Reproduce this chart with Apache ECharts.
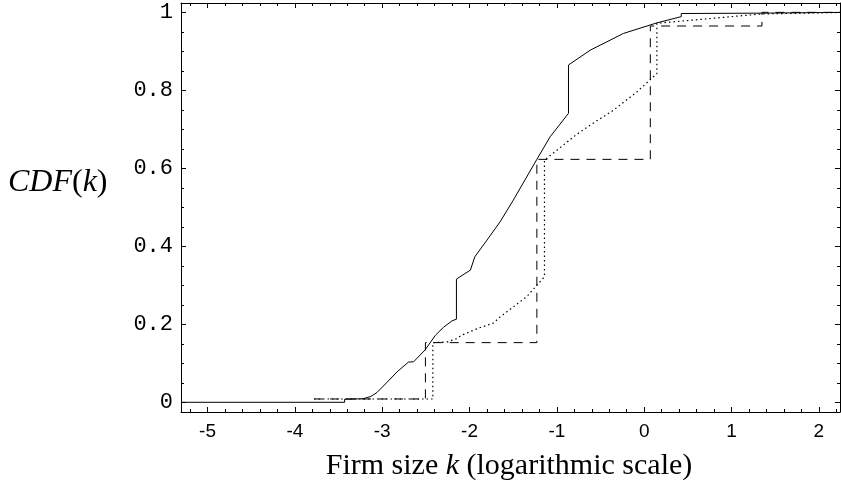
<!DOCTYPE html>
<html>
<head>
<meta charset="utf-8">
<script src="https://cdn.jsdelivr.net/npm/echarts@6/dist/echarts.min.js"></script>
<style>
  html, body { margin: 0; padding: 0; background: #fff; }
  #chart { width: 841px; height: 492px; }
</style>
</head>
<body>
<div id="chart"></div>
<script>
// empirical CDF (solid)
const empiricalCdf = [
  [-5.3, 0], [-3.43, 0], [-3.43, 0.008], [-3.22, 0.009], [-3.13, 0.015],
  [-3.06, 0.025], [-2.95, 0.05], [-2.83, 0.078], [-2.70, 0.103], [-2.64, 0.104],
  [-2.51, 0.134], [-2.39, 0.172], [-2.30, 0.192], [-2.20, 0.209], [-2.15, 0.213],
  [-2.15, 0.316], [-1.99, 0.339], [-1.94, 0.373], [-1.80, 0.416], [-1.65, 0.463],
  [-1.50, 0.518], [-1.229, 0.623], [-1.077, 0.681], [-0.867, 0.741], [-0.867, 0.865],
  [-0.618, 0.903], [-0.237, 0.946], [0.145, 0.973], [0.424, 0.989], [0.424, 0.997],
  [1.37, 0.998], [2.3, 1.0]
];
// step CDF (dashed)
const stepCdf = [
  [-3.78, 0.0085], [-2.505, 0.0085], [-2.505, 0.153], [-1.229, 0.153], [-1.229, 0.623],
  [0.07, 0.623], [0.07, 0.965], [1.348, 0.965], [1.348, 1.0], [2.3, 1.0]
];
// interpolated CDF (dotted)
const interpCdf = [
  [-3.78, 0.0085], [-2.42, 0.0085], [-2.42, 0.153], [-2.25, 0.155], [-2.15, 0.163],
  [-2.09, 0.172], [-1.9, 0.19], [-1.726, 0.203], [-1.649, 0.219], [-1.344, 0.271],
  [-1.142, 0.322], [-1.142, 0.621], [-0.785, 0.685], [-0.618, 0.711], [-0.352, 0.749],
  [-0.084, 0.796], [0.145, 0.843], [0.145, 0.972], [1.35, 0.996], [2.3, 1.0]
];

const xMajor = [-5, -4, -3, -2, -1, 0, 1, 2];
const xMinor = [-5.2, -4.8, -4.6, -4.4, -4.2, -3.8, -3.6, -3.4, -3.2, -2.8, -2.6, -2.4, -2.2,
  -1.8, -1.6, -1.4, -1.2, -0.8, -0.6, -0.4, -0.2, 0.2, 0.4, 0.6, 0.8, 1.2, 1.4, 1.6, 1.8, 2.2];
const yMajor = [0, 0.2, 0.4, 0.6, 0.8, 1];
const yMinor = [0.05, 0.1, 0.15, 0.25, 0.3, 0.35, 0.45, 0.5, 0.55, 0.65, 0.7, 0.75, 0.85, 0.9, 0.95];

const xMin = -5.3035, xMax = 2.2417;
const yMin = -0.0249, yMax = 1.024;

const chart = echarts.init(document.getElementById('chart'), null, { renderer: 'canvas' });

function xAx(pos, ticks, len, line, labels) {
  return {
    type: 'value', position: pos, min: xMin, max: xMax,
    axisLine: { show: line, onZero: false, lineStyle: { color: '#000', width: 1 } },
    axisTick: { show: true, inside: true, length: len, customValues: ticks, lineStyle: { color: '#000', width: 1 } },
    axisLabel: labels ? {
      show: true, customValues: ticks, color: '#000', margin: 10,
      fontFamily: 'Liberation Sans Narrow, Liberation Sans', fontSize: 19
    } : { show: false },
    splitLine: { show: false }
  };
}
function yAx(pos, ticks, len, line, labels) {
  return {
    type: 'value', position: pos, min: yMin, max: yMax,
    axisLine: { show: line, onZero: false, lineStyle: { color: '#000', width: 1 } },
    axisTick: { show: true, inside: true, length: len, customValues: ticks, lineStyle: { color: '#000', width: 1 } },
    axisLabel: labels ? {
      show: true, customValues: ticks, color: '#000', margin: 8,
      fontFamily: 'Liberation Mono', fontSize: 22,
      formatter: (v) => (Math.abs(v) < 1e-9 ? '0' : (v === 1 ? '1' : String(v)))
    } : { show: false },
    splitLine: { show: false }
  };
}

const serif = '"Liberation Serif"';

const option = {
  backgroundColor: '#fff',
  animation: false,
  grid: { left: 181, right: 1, top: 3, bottom: 80, containLabel: false },
  xAxis: [
    xAx('bottom', xMajor, 5, true, true),
    xAx('bottom', xMinor, 3, false, false),
    xAx('top', xMajor, 5, true, false),
    xAx('top', xMinor, 3, false, false)
  ],
  yAxis: [
    yAx('left', yMajor, 5, true, true),
    yAx('left', yMinor, 3, false, false),
    yAx('right', yMajor, 5, true, false),
    yAx('right', yMinor, 3, false, false)
  ],
  graphic: {
    elements: [
      {
        type: 'text', left: 8, top: 167,
        style: {
          text: '{i|CDF}{n|(}{i|k}{n|)}', fill: '#000',
          rich: {
            i: { fontFamily: serif, fontStyle: 'italic', fontSize: 32, fill: '#000' },
            n: { fontFamily: serif, fontSize: 32, fill: '#000' }
          }
        }
      },
      {
        type: 'text', x: 509, y: 466,
        style: {
          text: '{n|Firm size }{i|k}{n| (logarithmic scale)}', fill: '#000',
          textAlign: 'center', textVerticalAlign: 'middle',
          rich: {
            n: { fontFamily: serif, fontSize: 30, fill: '#000' },
            i: { fontFamily: serif, fontStyle: 'italic', fontSize: 30, fill: '#000' }
          }
        }
      }
    ]
  },
  series: [
    {
      type: 'line', data: interpCdf, showSymbol: false, symbol: 'none',
      lineStyle: { color: '#000', width: 1.2, type: [1.5, 3] }, z: 3
    },
    {
      type: 'line', data: stepCdf, showSymbol: false, symbol: 'none',
      lineStyle: { color: '#000', width: 1, type: [9, 7] }, z: 4
    },
    {
      type: 'line', data: empiricalCdf, showSymbol: false, symbol: 'none',
      lineStyle: { color: '#000', width: 1 }, z: 5
    }
  ]
};
chart.setOption(option);
</script>
</body>
</html>
